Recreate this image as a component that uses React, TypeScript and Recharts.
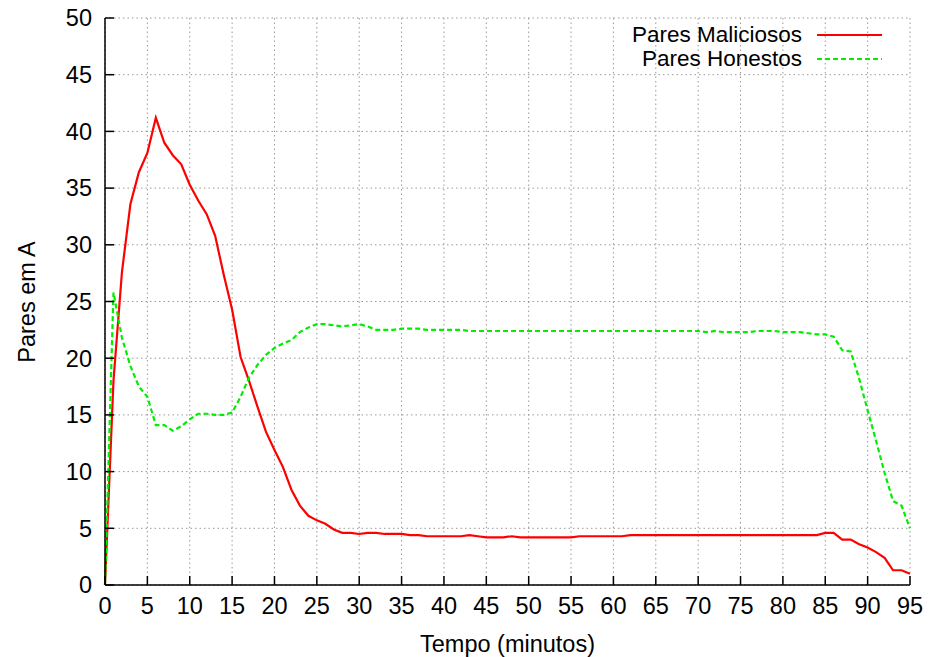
import React from 'react';
import { LineChart, Line, XAxis, YAxis, CartesianGrid, Legend } from 'recharts';

const minutes = Array.from({ length: 96 }, (_, i) => i);

const maliciosos = [
  0, 18, 27.6, 33.6, 36.4, 38.1, 41.2, 39.0, 37.9, 37.1,
  35.3, 33.9, 32.7, 30.8, 27.4, 24.3, 20.1, 18.0, 15.7, 13.5,
  11.9, 10.4, 8.4, 7.0, 6.1, 5.7, 5.4, 4.9, 4.6, 4.6,
  4.5, 4.6, 4.6, 4.5, 4.5, 4.5, 4.4, 4.4, 4.3, 4.3,
  4.3, 4.3, 4.3, 4.4, 4.3, 4.2, 4.2, 4.2, 4.3, 4.2,
  4.2, 4.2, 4.2, 4.2, 4.2, 4.2, 4.3, 4.3, 4.3, 4.3,
  4.3, 4.3, 4.4, 4.4, 4.4, 4.4, 4.4, 4.4, 4.4, 4.4,
  4.4, 4.4, 4.4, 4.4, 4.4, 4.4, 4.4, 4.4, 4.4, 4.4,
  4.4, 4.4, 4.4, 4.4, 4.4, 4.6, 4.6, 4.0, 4.0, 3.6,
  3.3, 2.9, 2.4, 1.3, 1.3, 1.0,
];

const honestos = [
  0, 25.8, 21.8, 19.3, 17.5, 16.6, 14.1, 14.1, 13.6, 14.0,
  14.6, 15.1, 15.1, 15.0, 15.0, 15.2, 16.6, 18.3, 19.4, 20.3,
  20.9, 21.3, 21.6, 22.3, 22.7, 23.0, 23.0, 22.9, 22.8, 22.9,
  23.0, 22.8, 22.5, 22.5, 22.5, 22.6, 22.6, 22.6, 22.5, 22.5,
  22.5, 22.5, 22.5, 22.4, 22.4, 22.4, 22.4, 22.4, 22.4, 22.4,
  22.4, 22.4, 22.4, 22.4, 22.4, 22.4, 22.4, 22.4, 22.4, 22.4,
  22.4, 22.4, 22.4, 22.4, 22.4, 22.4, 22.4, 22.4, 22.4, 22.4,
  22.4, 22.3, 22.4, 22.3, 22.3, 22.3, 22.3, 22.4, 22.4, 22.4,
  22.3, 22.3, 22.3, 22.2, 22.1, 22.1, 21.9, 20.7, 20.6, 18.2,
  15.4, 12.7, 9.9, 7.4, 7.0, 5.0,
];

const xTicks = [0, 5, 10, 15, 20, 25, 30, 35, 40, 45, 50, 55, 60, 65, 70, 75, 80, 85, 90, 95];
const yTicks = [0, 5, 10, 15, 20, 25, 30, 35, 40, 45, 50];

const data = minutes.map((t, i) => ({ t, mal: maliciosos[i], hon: honestos[i] }));

const FONT = '"Liberation Sans", Arial, sans-serif';
const FS = 23.5;

const renderLegend = () => (
  <div style={{ fontFamily: FONT, fontSize: 22.5, color: '#000' }}>
    {[
      { name: 'Pares Maliciosos', color: '#ff0000', dash: undefined },
      { name: 'Pares Honestos', color: '#00ee00', dash: '5 3' },
    ].map((s) => (
      <div key={s.name} style={{ display: 'flex', alignItems: 'center', height: 24 }}>
        <span style={{ width: 242, textAlign: 'right', lineHeight: '24px', whiteSpace: 'nowrap' }}>{s.name}</span>
        <svg width={80} height={6} style={{ marginLeft: 15 }}>
          <line x1={0} y1={3} x2={65} y2={3} stroke={s.color} strokeWidth={2} strokeDasharray={s.dash} />
        </svg>
      </div>
    ))}
  </div>
);

export default function App() {
  return (
    <div style={{ position: 'absolute', left: 0, top: 0, background: '#fff' }}>
      <LineChart width={929} height={657} data={data} margin={{ top: 18, right: 19, bottom: 0, left: 0 }}>
        <CartesianGrid stroke="#999" strokeDasharray="1.5 3" />
        <XAxis
          dataKey="t"
          type="number"
          domain={[0, 95]}
          ticks={xTicks}
          interval={0}
          height={72}
          tickSize={-9}
          tickMargin={21}
          axisLine={{ stroke: '#000', strokeWidth: 1.5 }}
          tickLine={{ stroke: '#000', strokeWidth: 1.5 }}
          tick={{ fill: '#000', fontSize: FS, fontFamily: FONT }}
          label={{ value: 'Tempo (minutos)', position: 'insideBottom', offset: 5, fill: '#000', fontSize: FS, fontFamily: FONT }}
        />
        <XAxis
          xAxisId="top"
          dataKey="t"
          type="number"
          orientation="top"
          domain={[0, 95]}
          ticks={xTicks}
          interval={0}
          height={0}
          tickSize={-9}
          tick={false}
          axisLine={{ stroke: '#000', strokeWidth: 1.5 }}
          tickLine={{ stroke: '#000', strokeWidth: 1.5 }}
        />
        <YAxis
          domain={[0, 50]}
          ticks={yTicks}
          interval={0}
          width={105}
          tickSize={-9}
          tickMargin={22}
          axisLine={{ stroke: '#000', strokeWidth: 1.5 }}
          tickLine={{ stroke: '#000', strokeWidth: 1.5 }}
          tick={{ fill: '#000', fontSize: FS, fontFamily: FONT }}
          label={{
            content: () => (
              <text x={27} y={302} transform="rotate(-90 27 302)" textAnchor="middle" dominantBaseline="central" fill="#000" fontSize={FS} fontFamily={FONT}>
                Pares em A
              </text>
            ),
          }}
        />
        <YAxis
          yAxisId="right"
          orientation="right"
          domain={[0, 50]}
          ticks={yTicks}
          interval={0}
          width={0}
          tickSize={-9}
          tick={false}
          axisLine={{ stroke: '#000', strokeWidth: 1.5 }}
          tickLine={{ stroke: '#000', strokeWidth: 1.5 }}
        />
        <Legend
          layout="horizontal"
          verticalAlign="middle"
          align="center"
          content={renderLegend}
          wrapperStyle={{ position: 'absolute', top: 23, left: 560, width: 340, height: 48 }}
        />
        <Line type="linear" dataKey="mal" name="Pares Maliciosos" stroke="#ff0000" strokeWidth={2.2} dot={false} isAnimationActive={false} />
        <Line type="linear" dataKey="hon" name="Pares Honestos" stroke="#00ee00" strokeWidth={2.2} strokeDasharray="5 3" dot={false} isAnimationActive={false} />
      </LineChart>
    </div>
  );
}
